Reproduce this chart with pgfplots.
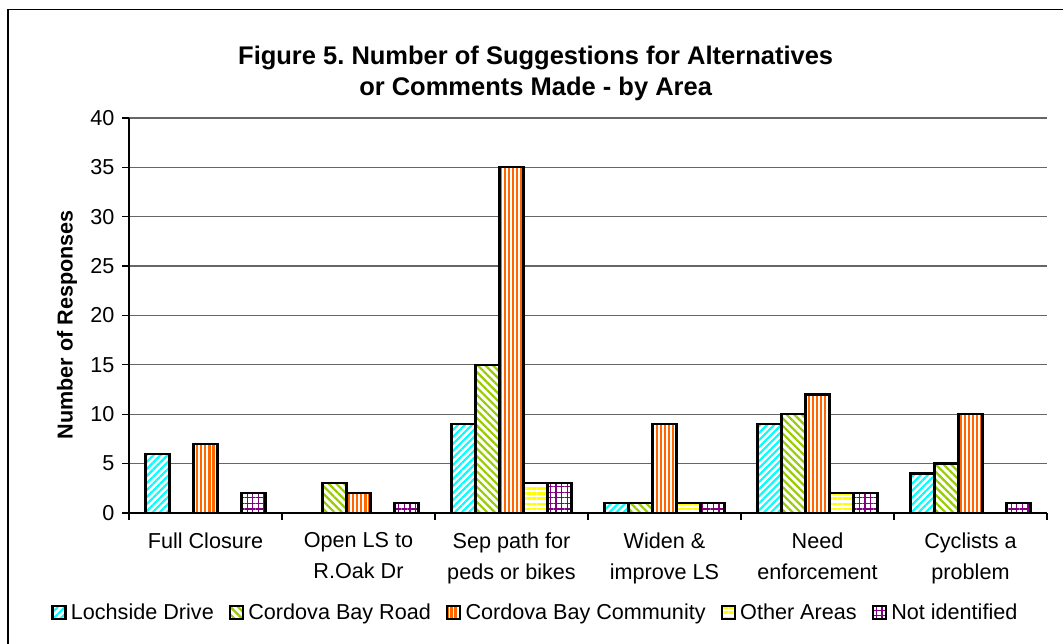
\documentclass[border=0pt]{standalone}
\usepackage{pgfplots}
\pgfplotsset{compat=1.18}
\usepackage{fontspec}
\setmainfont{Liberation Sans}
\frenchspacing
\usetikzlibrary{patterns.meta}
\definecolor{cLoch}{HTML}{00FFFF}
\definecolor{cCBR}{HTML}{99CC00}
\definecolor{cCBC}{HTML}{FF6600}
\definecolor{cOther}{HTML}{FFFF00}
\definecolor{cNot}{HTML}{800080}
\begin{document}
\begin{tikzpicture}
\begin{axis}[
  at={(0,0)}, anchor=south west,
  scale only axis,
  width=424.9pt, height=182.8pt,
  xmin=0.5, xmax=6.5, ymin=0, ymax=40,
  ytick={0,5,...,40},
  xtick={0.5,1.5,...,6.5},
  x tick label as interval,
  xticklabels={Full Closure,{Open LS to\\R.Oak Dr},{Sep path for\\peds or bikes},{Widen \&\\improve LS},{Need\\enforcement},{Cyclists a\\problem}},
  xticklabel style={align=center, font=\fontsize{10}{14.4}\selectfont, yshift=-2.4pt},
  yticklabel style={font=\fontsize{10}{12}\selectfont},
  /pgf/number format/assume math mode=true,
  axis lines*=left,
  axis line style={black, line width=0.6pt, -},
  tick align=outside,
  major tick length=3.2pt,
  tick style={black, line width=0.6pt},
  ymajorgrids,
  major grid style={black!60, line width=0.6pt},
  ybar=0pt,
  bar width=0.157,
  ylabel={Number of Responses},
  ylabel style={font=\bfseries\fontsize{10}{12}\selectfont, at={(axis description cs:-0.0675,0.476)}, anchor=center},
  title={Figure 5. Number of Suggestions for Alternatives\\or Comments Made - by Area},
  title style={font=\bfseries\fontsize{11.8}{14.35}\selectfont, align=center, at={(axis description cs:0.443,1.079)}, anchor=center},
  legend columns=5,
  legend style={draw=none, font=\fontsize{10}{12}\selectfont, at={(axis description cs:0.444,-0.253)}, anchor=center,
    /tikz/every even column/.append style={column sep=5pt}},
  legend image code/.code={\draw[#1] (0pt,-3pt) rectangle (6pt,3pt);},
]
\addplot[draw=black, line width=1pt, fill=white, postaction={pattern={Lines[angle=45,distance=2.3pt,line width=1pt]}, pattern color=cLoch}]
  coordinates {(1,6) (3,9) (4,1) (5,9) (6,4)};
\addplot[draw=black, line width=1pt, fill=white, postaction={pattern={Lines[angle=-45,distance=2.5pt,line width=1pt]}, pattern color=cCBR}]
  coordinates {(2,3) (3,15) (4,1) (5,10) (6,5)};
\addplot[draw=black, line width=1pt, fill=white, postaction={pattern={Lines[angle=90,distance=1.9pt,line width=1.1pt]}, pattern color=cCBC}]
  coordinates {(1,7) (2,2) (3,35) (4,9) (5,12) (6,10)};
\addplot[draw=black, line width=1pt, fill=white, postaction={pattern={Lines[angle=0,distance=2.4pt,line width=1.2pt]}, pattern color=cOther}]
  coordinates {(3,3) (4,1) (5,2)};
\addplot[draw=black, line width=1pt, fill=white, postaction={pattern={Hatch[angle=0,distance=2.6pt,line width=0.6pt]}, pattern color=cNot}]
  coordinates {(1,2) (2,1) (3,3) (4,1) (5,2) (6,1)};
\legend{Lochside Drive, Cordova Bay Road, Cordova Bay Community, Other Areas, Not identified}
\end{axis}
\draw[black, line width=0.5pt] (-56pt,-62pt) -- (-56pt,232.8pt) -- (434pt,232.8pt);
\pgfresetboundingbox
\path[use as bounding box] (-59.7pt,-60.6pt) rectangle (432.3pt,237.4pt);
\end{tikzpicture}
\end{document}
